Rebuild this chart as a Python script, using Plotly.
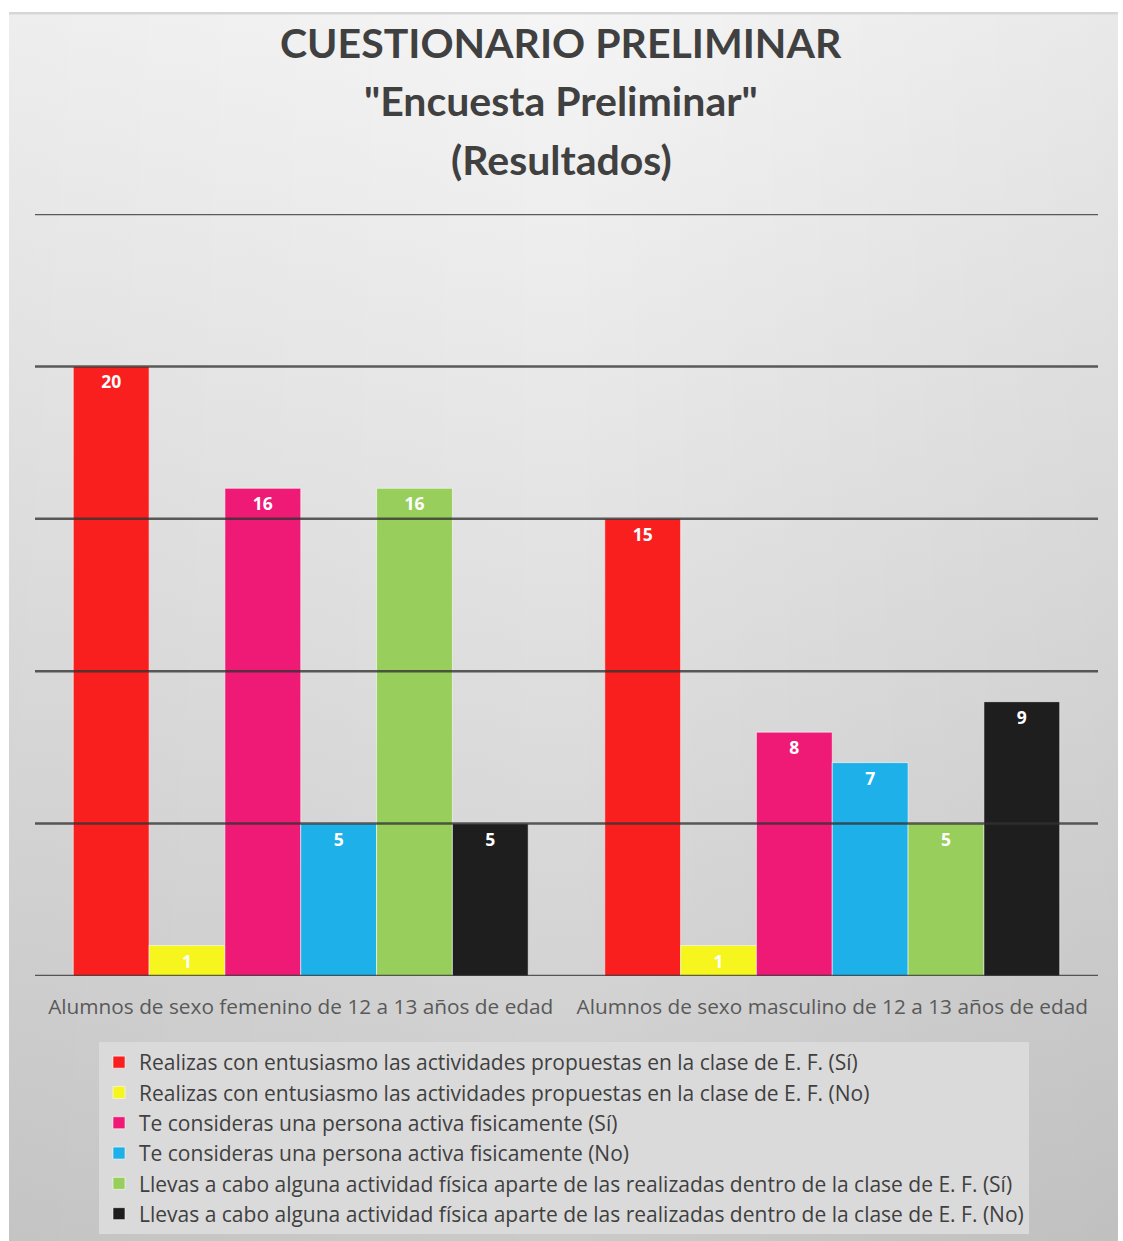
import base64
import plotly.graph_objects as go

categories = [
    "Alumnos de sexo femenino de 12 a 13 años de edad",
    "Alumnos de sexo masculino de 12 a 13 años de edad",
]
series_names = [
    "Realizas con entusiasmo las actividades propuestas en la clase de E. F. (Sí)",
    "Realizas con entusiasmo las actividades propuestas en la clase de E. F. (No)",
    "Te consideras una persona activa fisicamente (Sí)",
    "Te consideras una persona activa fisicamente (No)",
    "Llevas a cabo alguna actividad física aparte de las realizadas dentro de la clase de E. F. (Sí)",
    "Llevas a cabo alguna actividad física aparte de las realizadas dentro de la clase de E. F. (No)",
]
realizas_si = [20, 15]
realizas_no = [1, 1]
activa_si = [16, 8]
activa_no = [5, 7]
llevas_si = [16, 5]
llevas_no = [5, 9]
series_values = [realizas_si, realizas_no, activa_si, activa_no, llevas_si, llevas_no]
colors = ["#F91F1F", "#F6F61E", "#EE1A76", "#1EB0E9", "#98CF5C", "#1E1E1E"]
grid_values = [0, 5, 10, 15, 20, 25]
title_lines = ["CUESTIONARIO PRELIMINAR", "\"Encuesta Preliminar\"", "(Resultados)"]

W, H = 1123, 1241
L, R, T, B = 35, 25, 214, 265
PW, PH = W - L - R, H - T - B


def px_x(p):
    return (p - L) / PW


def px_y(p):
    return (H - B - p) / PH


TITLE_FONT = "Lato"
FONT = "Open Sans"

fig = go.Figure()
for name, vals, col in zip(series_names, series_values, colors):
    fig.add_trace(go.Bar(
        name=name, x=categories, y=vals,
        marker=dict(color=col, line=dict(color="rgba(255,255,255,0.55)", width=1)),
        text=[str(v) for v in vals], textposition="inside", insidetextanchor="end",
        textangle=0, constraintext="none",
        insidetextfont=dict(family=FONT, size=17.5, color="white", weight="bold"),
        legendgroup=name, hoverinfo="skip",
    ))

svg = (
    "<svg xmlns='http://www.w3.org/2000/svg' width='200' height='200' preserveAspectRatio='none'>"
    "<defs><linearGradient id='g' x1='0' y1='0' x2='0' y2='1'>"
    "<stop offset='0' stop-color='#f5f5f5'/><stop offset='0.45' stop-color='#e2e2e2'/>"
    "<stop offset='1' stop-color='#cacaca'/></linearGradient>"
    "<linearGradient id='h' x1='0' y1='0' x2='1' y2='0'>"
    "<stop offset='0' stop-color='#000' stop-opacity='0.03'/>"
    "<stop offset='0.5' stop-color='#000' stop-opacity='0'/>"
    "<stop offset='1' stop-color='#000' stop-opacity='0.05'/></linearGradient></defs>"
    "<rect width='200' height='200' fill='url(#g)'/>"
    "<rect width='200' height='200' fill='url(#h)'/>"
    "<rect width='200' height='0.4' fill='#d6d6d6'/>"
    "</svg>"
)
src = "data:image/svg+xml;base64," + base64.b64encode(svg.encode()).decode()
fig.add_layout_image(dict(
    source=src, xref="paper", yref="paper",
    x=px_x(9), y=px_y(12), sizex=(1118 - 9) / PW, sizey=(H - 12) / PH,
    xanchor="left", yanchor="top", sizing="stretch", layer="below",
))

shapes = []
for g in grid_values:
    shapes.append(dict(type="line", xref="paper", yref="y", x0=0, x1=1, y0=g, y1=g,
                       line=dict(color="rgba(50,50,50,0.78)", width=2.5), layer="above"))

annotations = []
for line, py in zip(title_lines, [42, 101, 159]):
    annotations.append(dict(text=line, xref="paper", yref="paper", x=px_x(561), y=px_y(py),
                            xanchor="center", yanchor="middle", showarrow=False,
                            font=dict(family=TITLE_FONT, size=41, color="#404040", weight="bold")))

fig.update_layout(
    width=W, height=H,
    margin=dict(l=L, r=R, t=T, b=B, autoexpand=False),
    paper_bgcolor="white", plot_bgcolor="rgba(0,0,0,0)",
    barmode="group", bargap=0.144, bargroupgap=0,
    showlegend=True,
    legend=dict(
        x=px_x(99), y=px_y(1042), xanchor="left", yanchor="top",
        bgcolor="#dadada", font=dict(family=FONT, size=21, color="#404040"),
        tracegroupgap=2.8, traceorder="normal", itemclick=False,
    ),
    xaxis=dict(showgrid=False, zeroline=False, showline=False, ticks="",
               tickfont=dict(family=FONT, size=20.8, color="#595959"), ticklabelstandoff=16),
    yaxis=dict(range=[0, 25], showgrid=False, zeroline=False, showticklabels=False, ticks=""),
    shapes=shapes, annotations=annotations,
)

fig.write_html("out.html")
